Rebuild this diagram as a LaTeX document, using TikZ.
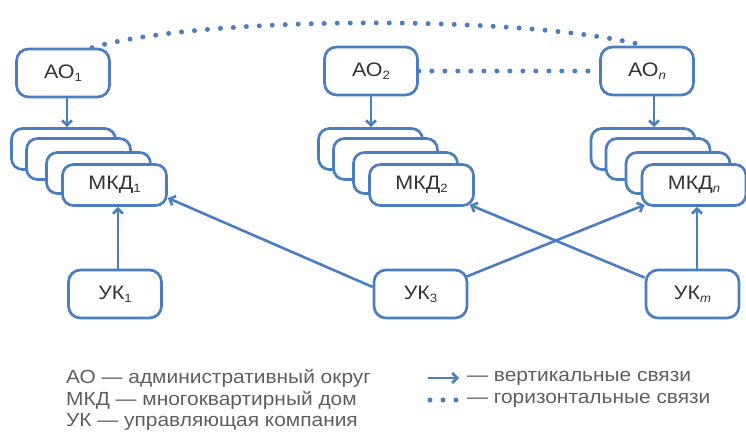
\documentclass[tikz,border=0pt]{standalone}
\usepackage{fontspec}
\setmainfont{Liberation Sans}
\newfontfamily\wide{Liberation Sans}[FakeStretch=1.1]
\usetikzlibrary{arrows.meta,calc}
\definecolor{bl}{RGB}{74,126,193}
\definecolor{tx}{RGB}{51,51,51}
\definecolor{lg}{RGB}{95,95,95}
\newcommand\subx[1]{\raisebox{-0.3ex}{\fontsize{12}{12}\selectfont #1}}
\begin{document}
\begin{tikzpicture}[x=1pt,y=-1pt,
 box/.style={draw=bl, line width=2.7pt, rounded corners=12pt, fill=white, minimum width=93pt, minimum height=48pt, inner sep=0pt, text=tx, font=\wide\fontsize{19.5}{19.5}\selectfont},
 mkd/.style={box, minimum width=104pt, minimum height=41pt, rounded corners=11pt},
 varr/.style={draw=bl, line width=2.6pt, -{Straight Barb[length=5pt,width=10pt]}},
 dots/.style={draw=bl, line width=5pt, line cap=round, dash pattern=on 0pt off 13pt},
 lgt/.style={anchor=west, inner sep=0pt, text=lg, font=\wide\fontsize{19}{19}\selectfont},
]
\useasboundingbox (0,0) rectangle (746,434);
% AO nodes
\node[box] (AO1) at (63,73) {АО\subx{1}};
\node[box] (AO2) at (371,71) {АО\subx{2}};
\node[box] (AOn) at (647,71) {АО\subx{\textit{n}}};
% stack 1
\node[mkd] (S1a) at (63.5,149) {};
\node[mkd] (S1b) at (78.5,159) {};
\node[mkd] (S1c) at (98.5,173) {};
\node[mkd] (MKD1) at (114.5,185) {МКД\subx{1}};
% stack 2
\node[mkd] (S2a) at (370.5,149) {};
\node[mkd] (S2b) at (385.5,159) {};
\node[mkd] (S2c) at (405.5,173) {};
\node[mkd] (MKD2) at (421.5,185) {МКД\subx{2}};
% stack n
\node[mkd] (Sna) at (643,149) {};
\node[mkd] (Snb) at (658,159) {};
\node[mkd] (Snc) at (678,173) {};
\node[mkd] (MKDn) at (694,185) {МКД\subx{\textit{n}}};
% UK nodes
\node[box] (UK1) at (115,294) {УК\subx{1}};
\node[box] (UK3) at (420.5,294) {УК\subx{3}};
\node[box] (UKm) at (692.5,294) {УК\subx{\textit{m}}};
% vertical links
\draw[varr] ([xshift=4pt]AO1.south) -- ([xshift=4pt]AO1.south |- S1a.north);
\draw[varr] (AO2.south) -- (AO2.south |- S2a.north);
\draw[varr] ([xshift=7pt]AOn.south) -- ([xshift=7pt]AOn.south |- Sna.north);
\draw[varr] ([xshift=3pt]UK1.north) -- ([xshift=3pt]UK1.north |- MKD1.south);
\draw[varr] ([xshift=4.5pt]UKm.north) -- ([xshift=4.5pt]UKm.north |- MKDn.south);
\draw[varr] ([yshift=7pt]UK3.west) -- ([yshift=-13pt]MKD1.east);
\draw[varr] ([shift={(-2pt,-8pt)}]UK3.north east) -- ([shift={(4pt,2pt)}]MKDn.south west);
\draw[varr] ([shift={(0pt,-9pt)}]UKm.north west) -- ([shift={(-5pt,2pt)}]MKD2.south east);
% horizontal links
\draw[dots] ([xshift=29pt]AO1.north) .. controls (200,16) and (520,14) .. ([xshift=-2pt]AOn.north);
\draw[dots] (AO2.east) -- (AOn.west);
% legend
\node[lgt] (L1) at (66,378) {АО — административный округ};
\node[lgt] (L2) at (66,400) {МКД — многоквартирный дом};
\node[lgt] (L3) at (66,422) {УК — управляющая компания};
\coordinate (A1) at (428,378);
\coordinate (A2) at (459,378);
\draw[varr] (A1) -- (A2);
\node[lgt] (L4) at (467,378) {— вертикальные связи};
\coordinate (D1) at (430,400);
\coordinate (D2) at (456,400);
\draw[dots] (D1) -- (D2);
\node[lgt] (L5) at (467,400) {— горизонтальные связи};
\end{tikzpicture}
\end{document}
